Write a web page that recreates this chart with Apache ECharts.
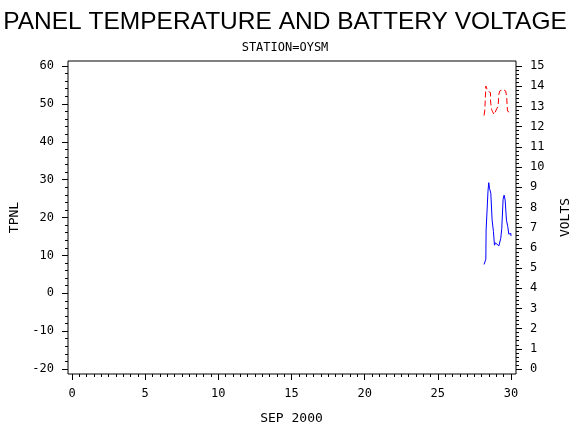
<!DOCTYPE html>
<html>
<head>
<meta charset="utf-8">
<script src="https://cdn.jsdelivr.net/npm/echarts@6/dist/echarts.min.js"></script>
<style>html,body{margin:0;padding:0;background:#fff;}#c{width:570px;height:430px;}</style>
</head>
<body>
<div id="c"></div>
<script>
var titleText = 'PANEL TEMPERATURE AND BATTERY VOLTAGE';
var subText = 'STATION=OYSM';
var xName = 'SEP 2000';
var leftName = 'TPNL';
var rightName = 'VOLTS';

var daysT = [28.16,28.26,28.28,28.30,28.43,28.48,28.53,28.57,28.62,28.71,28.80,28.87,28.94,29.05,29.17,29.26,29.30,29.37,29.46,29.53,29.60,29.69,29.78,29.85,29.94,29.99,30.0];
var tpnl  = [7.6,7.6,9.0,16.7,27.1,29.2,27.7,28.0,26.4,19.3,16.3,12.7,13.3,13.2,12.5,12.1,14.5,17.1,24.8,25.9,24.6,19.3,17.6,15.6,15.2,15.8,15.1];

var daysV = [28.16,28.21,28.28,28.35,28.41,28.60,28.60,28.67,28.74,28.84,28.94,29.12,29.17,29.23,29.35,29.46,29.53,29.64,29.71,29.73,29.76,29.86,29.97];
var volts = [12.55,12.82,14.01,13.93,13.76,13.68,13.27,12.85,12.74,12.60,12.69,13.02,13.59,13.76,13.83,13.84,13.88,13.76,13.43,13.10,12.77,12.72,12.67];

function pairs(xs, ys){ return xs.map(function(x,i){ return [x, ys[i]]; }); }

var mono = 'DejaVu Sans Mono';
var lab = {color:'#000', fontFamily: mono, fontSize: 12};
var tick = {show:true, length:6, lineStyle:{color:'#000', width:1}};
var minor = function(n){ return {show:true, splitNumber:n, length:3, lineStyle:{color:'#000', width:1}}; };

var chart = echarts.init(document.getElementById('c'));
chart.setOption({
  animation: false,
  backgroundColor: '#fff',
  title: [
    {text: titleText, left: 'center', top: 5, textStyle:{fontFamily:'Liberation Sans', fontSize:24.5, fontWeight:'normal', color:'#000'}},
    {text: subText, left: 'center', top: 37, textStyle:{fontFamily: mono, fontSize:12, fontWeight:'normal', color:'#000'}}
  ],
  grid: [
    {left:68, right:54, top:61, bottom:56, show:true, borderColor:'#000', borderWidth:1, backgroundColor:'transparent', containLabel:false, outerBoundsMode:'none'},
    {left:72, right:59, top:66, bottom:61, containLabel:false, outerBoundsMode:'none'}
  ],
  xAxis: [
    {gridIndex:0, type:'value', show:false},
    {gridIndex:1, type:'value', min:0, max:30, interval:5, offset:5,
     axisLine:{show:false, onZero:false}, splitLine:{show:false},
     axisTick: tick, minorTick: minor(10),
     axisLabel: Object.assign({margin:14}, lab),
     name: xName, nameLocation:'middle', nameGap:38,
     nameTextStyle:{color:'#000', fontFamily:mono, fontSize:13}}
  ],
  yAxis: [
    {gridIndex:0, type:'value', show:false},
    {gridIndex:1, type:'value', position:'left', min:-20, max:60, interval:10, offset:4,
     axisLine:{show:false, onZero:false}, splitLine:{show:false},
     axisTick: tick, minorTick: minor(5),
     axisLabel: Object.assign({margin:14}, lab),
     name: leftName, nameLocation:'middle', nameRotate:90, nameGap:44,
     nameTextStyle:{color:'#000', fontFamily:mono, fontSize:13}},
    {gridIndex:1, type:'value', position:'right', min:0, max:15, interval:1, offset:5,
     axisLine:{show:false, onZero:false}, splitLine:{show:false},
     axisTick: tick, minorTick: minor(5),
     axisLabel: Object.assign({margin:14}, lab),
     name: rightName, nameLocation:'middle', nameRotate:90, nameGap:43,
     nameTextStyle:{color:'#000', fontFamily:mono, fontSize:13}}
  ],
  series: [
    {type:'line', xAxisIndex:1, yAxisIndex:1, data: pairs(daysT, tpnl), showSymbol:false, symbol:'none',
     lineStyle:{color:'#0000ff', width:1}},
    {type:'line', xAxisIndex:1, yAxisIndex:2, data: pairs(daysV, volts), showSymbol:false, symbol:'none',
     lineStyle:{color:'#ff0000', width:1, type:[6,3]}}
  ]
});
</script>
</body>
</html>
